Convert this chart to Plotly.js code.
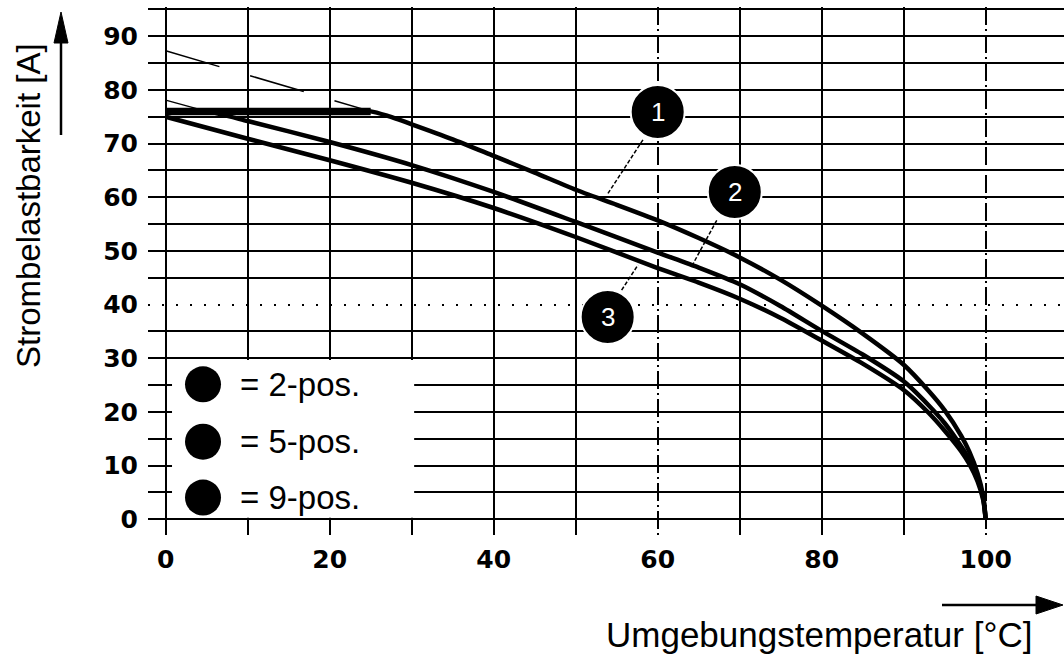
<!DOCTYPE html>
<html>
<head>
<meta charset="utf-8">
<script src="https://cdn.plot.ly/plotly-3.0.1.min.js"></script>
<style>html,body{margin:0;padding:0;background:#fff;}#chart{width:1064px;height:659px;}</style>
</head>
<body>
<div id="chart"></div>
<script>
// ---- data ----
const temp2pos = [0, 12, 22, 25, 27, 30, 35, 40, 45, 50, 55, 60, 65, 70, 75, 80, 85, 90, 93, 95, 97, 98, 99, 99.7, 100];
const load2pos = [76, 76, 76, 76, 75.2, 73.6, 70.8, 67.7, 64.6, 61.4, 58.6, 55.7, 52.4, 48.8, 44.6, 39.8, 34.6, 28.8, 24.0, 20.3, 15.6, 12.6, 8.6, 4.3, 0];
const temp5pos = [0, 5, 10, 20, 30, 40, 50, 60, 65, 70, 75, 80, 85, 90, 93, 95, 97, 98, 99, 99.7, 100];
const load5pos = [76, 76, 74.2, 70.3, 66, 61.0, 55.4, 49.7, 46.9, 43.8, 39.7, 35.1, 30.7, 25.7, 21.3, 17.9, 13.6, 11.1, 7.6, 3.9, 0];
const temp9pos = [0, 10, 20, 30, 40, 50, 60, 65, 70, 75, 80, 85, 90, 93, 95, 97, 98, 99, 99.7, 100];
const load9pos = [75, 70.9, 66.9, 62.7, 58, 52.6, 46.8, 44.1, 41.1, 37.5, 33.3, 29.0, 24.1, 19.9, 16.5, 12.7, 10.3, 7.1, 3.6, 0];
// thin uncapped extensions above the 76 A limit
const extTemp2pos = [0, 25];
const extLoad2pos = [87.3, 76];
const extTemp5pos = [0, 5];
const extLoad5pos = [78.1, 76];
const capLoad = 76;

const xTickValues = [0, 10, 20, 30, 40, 50, 70, 80, 90];
const xTickLabels = ['0', '', '20', '', '40', '', '', '80', ''];
const xSpecialValues = [60, 100];
const xSpecialLabels = ['60', '100'];
const yTickValues = [0, 5, 10, 15, 20, 25, 30, 35, 45, 50, 55, 60, 65, 70, 75, 80, 85, 90, 95];
const yTickLabels = ['0', '', '10', '', '20', '', '30', '', '', '50', '', '60', '', '70', '', '80', '', '90', ''];
const ySpecialValues = [40];
const ySpecialLabels = ['40'];

const legendLabels = ['= 2-pos.', '= 5-pos.', '= 9-pos.'];
const curveNumbers = ['1', '2', '3'];
const xTitle = 'Umgebungstemperatur [°C]';
const yTitle = 'Strombelastbarkeit [A]';

// ---- layout geometry ----
const M = {l: 148, r: 0, t: 7, b: 124};
const W = 1064 - M.l - M.r, H = 659 - M.t - M.b;
const PX = v => (v - M.l) / W;            // pixel x -> paper
const PY = v => (M.t + H - v) / H;        // pixel y -> paper
const xRange = [-2.159, 109.549];
const yRange = [-2.925, 95.45];

const capIdx = load2pos.map((v, i) => v >= capLoad ? i : -1).filter(i => i >= 0);

const curveLine = {color: '#000', width: 4.5, shape: 'spline', smoothing: 0.6};
const traces = [
  {x: extTemp2pos, y: extLoad2pos, mode: 'lines', line: {color: '#000', width: 1.5, dash: '56px,32px'}, hoverinfo: 'skip'},
  {x: extTemp5pos, y: extLoad5pos, mode: 'lines', line: {color: '#000', width: 1.5}, hoverinfo: 'skip'},
  {x: temp2pos, y: load2pos, mode: 'lines', name: '2-pos.', line: curveLine},
  {x: temp5pos, y: load5pos, mode: 'lines', name: '5-pos.', line: curveLine},
  {x: temp9pos, y: load9pos, mode: 'lines', name: '9-pos.', line: curveLine, xaxis: 'x2', yaxis: 'y2'},
  {x: capIdx.map(i => temp2pos[i]), y: capIdx.map(i => load2pos[i]), mode: 'lines', line: {color: '#000', width: 7.5}, hoverinfo: 'skip'}
];

const tickFont = {family: 'DejaVu Sans', size: 25, color: '#000', weight: 700};
const baseX = {range: xRange, showline: false, zeroline: false, ticks: '', gridcolor: '#000', gridwidth: 2,
  tickfont: tickFont, ticklabelstandoff: 7, fixedrange: true};
const baseY = {range: yRange, showline: false, zeroline: false, ticks: '', gridcolor: '#000', gridwidth: 2,
  tickfont: tickFont, ticklabelstandoff: 9, fixedrange: true};

const shapes = [];
const annotations = [];

// white box behind the key
shapes.push({type: 'rect', xref: 'x', yref: 'y', x0: 0.77, x1: 30.3, y0: 0.3, y1: 29.7,
  fillcolor: '#fff', line: {width: 0}, layer: 'above'});
// key circles and labels
const keyY = [25.15, 14.46, 4.06];
legendLabels.forEach((t, i) => {
  shapes.push({type: 'circle', xref: 'x', yref: 'y', xsizemode: 'pixel', ysizemode: 'pixel',
    xanchor: 4.55, yanchor: keyY[i], x0: -18, x1: 18, y0: -18, y1: 18,
    fillcolor: '#000', line: {width: 0}, layer: 'above'});
  annotations.push({xref: 'x', yref: 'y', x: 8.8, y: keyY[i], xanchor: 'left', yanchor: 'middle',
    text: t, showarrow: false, font: {family: 'Liberation Sans', size: 33, color: '#000'}});
});

// numbered curve markers with leader lines
const markers = [
  {cx: 60.0, cy: 75.9, lx0: 58.2, ly0: 70.7, lx1: 53.8, ly1: 60.4},
  {cx: 69.4, cy: 61.0, lx0: 67.2, ly0: 55.7, lx1: 64.1, ly1: 47.0},
  {cx: 53.9, cy: 37.7, lx0: 55.6, ly0: 42.7, lx1: 57.6, ly1: 47.4}
];
markers.forEach((m, i) => {
  shapes.push({type: 'line', xref: 'x', yref: 'y', x0: m.lx0, y0: m.ly0, x1: m.lx1, y1: m.ly1,
    line: {color: '#000', width: 1.5, dash: '4px,2px'}, layer: 'above'});
  shapes.push({type: 'circle', xref: 'x', yref: 'y', xsizemode: 'pixel', ysizemode: 'pixel',
    xanchor: m.cx, yanchor: m.cy, x0: -27, x1: 27, y0: -27, y1: 27,
    fillcolor: '#000', line: {color: '#fff', width: 2}, layer: 'above'});
  annotations.push({xref: 'x', yref: 'y', x: m.cx, y: m.cy, text: curveNumbers[i], showarrow: false,
    xanchor: 'center', yanchor: 'middle', font: {family: 'Liberation Sans', size: 26, color: '#fff'}});
});

// axis arrows (paper coordinates from pixel geometry)
shapes.push({type: 'line', xref: 'paper', yref: 'paper', x0: PX(61), x1: PX(61), y0: PY(135), y1: PY(40),
  line: {color: '#000', width: 2.5}});
shapes.push({type: 'path', xref: 'paper', yref: 'paper',
  path: `M ${PX(61)},${PY(12)} L ${PX(54)},${PY(43)} L ${PX(68)},${PY(43)} Z`,
  fillcolor: '#000', line: {color: '#000', width: 1}});
shapes.push({type: 'line', xref: 'paper', yref: 'paper', x0: PX(942), x1: PX(1040), y0: PY(605), y1: PY(605),
  line: {color: '#000', width: 2.5}});
shapes.push({type: 'path', xref: 'paper', yref: 'paper',
  path: `M ${PX(1063)},${PY(605)} L ${PX(1036)},${PY(596)} L ${PX(1036)},${PY(614)} Z`,
  fillcolor: '#000', line: {color: '#000', width: 1}});

// axis titles
annotations.push({xref: 'paper', yref: 'paper', x: PX(28), y: PY(206), text: yTitle, textangle: -90,
  showarrow: false, xanchor: 'center', yanchor: 'middle', font: {family: 'Liberation Sans', size: 33, color: '#000'}});
annotations.push({xref: 'paper', yref: 'paper', x: PX(819), y: PY(634), text: xTitle,
  showarrow: false, xanchor: 'center', yanchor: 'middle', font: {family: 'Liberation Sans', size: 35, color: '#000'}});

const layout = {
  width: 1064, height: 659, margin: M, showlegend: false,
  paper_bgcolor: '#fff', plot_bgcolor: '#fff',
  xaxis: Object.assign({}, baseX, {tickmode: 'array', tickvals: xTickValues, ticktext: xTickLabels}),
  xaxis2: Object.assign({}, baseX, {tickmode: 'array', tickvals: xSpecialValues, ticktext: xSpecialLabels,
    overlaying: 'x', anchor: 'y2', side: 'bottom', griddash: '18px,4px,2px,4px', gridwidth: 2}),
  yaxis: Object.assign({}, baseY, {tickmode: 'array', tickvals: yTickValues, ticktext: yTickLabels}),
  yaxis2: Object.assign({}, baseY, {tickmode: 'array', tickvals: ySpecialValues, ticktext: ySpecialLabels,
    overlaying: 'y', anchor: 'x2', side: 'left', griddash: '2px,12px', gridwidth: 2}),
  shapes: shapes,
  annotations: annotations
};

Plotly.newPlot('chart', traces, layout, {staticPlot: true, displayModeBar: false});
</script>
</body>
</html>
